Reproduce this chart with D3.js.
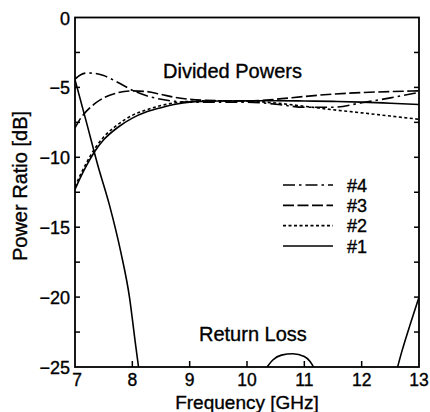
<!DOCTYPE html>
<html>
<head>
<meta charset="utf-8">
<script src="https://cdn.jsdelivr.net/npm/d3@7"></script>
<style>
  body { margin: 0; background: #fff; }
  svg { display: block; font-family: "Liberation Sans", Arial, Helvetica, sans-serif; }
  svg text { stroke: #000; stroke-width: 0.35px; }
</style>
</head>
<body>
<svg id="chart" width="430" height="412"></svg>
<script>
// frequency grid shared by the divided-power curves (GHz)
const divFreq = [7.0, 7.1, 7.2, 7.35, 7.5, 7.75, 8.0, 8.25, 8.5, 8.75, 9.0, 9.5, 10, 10.5, 11, 11.5, 12, 12.5, 13];
const port1 = [-12.3, -11.4, -10.6, -9.55, -8.75, -7.85, -7.2, -6.75, -6.45, -6.2, -6.05, -5.97, -5.95, -5.95, -5.97, -6.0, -6.05, -6.13, -6.22];
const port2 = [-12.1, -11.2, -10.4, -9.35, -8.55, -7.65, -7.0, -6.6, -6.3, -6.1, -6.0, -5.95, -5.98, -6.12, -6.35, -6.6, -6.82, -7.05, -7.28];
const port3 = [-7.9, -7.2, -6.7, -6.15, -5.75, -5.38, -5.25, -5.3, -5.5, -5.72, -5.85, -5.95, -5.98, -5.85, -5.65, -5.48, -5.37, -5.3, -5.25];
const port4 = [-4.4, -4.1, -3.97, -4.0, -4.15, -4.65, -5.2, -5.6, -5.85, -6.0, -6.05, -6.05, -6.05, -6.2, -6.42, -6.42, -6.1, -5.75, -5.35];

// return loss, visible pieces (clipped at -25 dB)
const rlFreqA = [7.0, 7.2, 7.4, 7.6, 7.8, 7.95, 8.05, 8.15];
const rlValsA = [-4.45, -7.5, -10.6, -13.4, -16.8, -20.0, -23.2, -26.3];
const rlFreqB = [10.3, 10.45, 10.6, 10.8, 11.0, 11.1, 11.2];
const rlValsB = [-25.3, -24.5, -24.15, -24.05, -24.25, -24.6, -25.3];
const rlFreqC = [12.55, 12.7, 12.85, 13.0];
const rlValsC = [-26.2, -23.9, -21.9, -20.0];

const xTicks = [7, 8, 9, 10, 11, 12, 13];
const yTicks = [0, -5, -10, -15, -20, -25];
const yMinor = [-2.5, -7.5, -12.5, -17.5, -22.5];
const legendNames = ["#4", "#3", "#2", "#1"];

let margin = {top: 17.5, right: 11, bottom: 45, left: 75},
    width = 430 - margin.left - margin.right,
    height = 412 - margin.top - margin.bottom;

let svg = d3.select("#chart");
let x = d3.scaleLinear().domain([7, 13]).range([margin.left, margin.left + width]);
let y = d3.scaleLinear().domain([-25, 0]).range([margin.top + height, margin.top]);

let dashes = {"#1": null, "#2": "3,2.5", "#3": "11,3.5", "#4": "12,4,2.5,4"};

svg.append("clipPath").attr("id", "plotclip")
    .append("rect")
    .attr("x", x(7)).attr("y", y(0))
    .attr("width", x(13) - x(7)).attr("height", y(-25) - y(0));

let line = d3.line()
    .x(d => x(d[0]))
    .y(d => y(d[1]))
    .curve(d3.curveMonotoneX);

let series = [
    {name: "#1", vals: port1},
    {name: "#2", vals: port2},
    {name: "#3", vals: port3},
    {name: "#4", vals: port4}
];

let plot = svg.append("g").attr("clip-path", "url(#plotclip)");

plot.selectAll(".divided")
    .data(series)
    .join("path")
    .attr("class", "divided")
    .attr("d", s => line(divFreq.map((f, i) => [f, s.vals[i]])))
    .attr("fill", "none")
    .attr("stroke", "#000")
    .attr("stroke-width", 1.6)
    .attr("stroke-dasharray", s => dashes[s.name]);

let rlPieces = [[rlFreqA, rlValsA], [rlFreqB, rlValsB], [rlFreqC, rlValsC]];
plot.selectAll(".retloss")
    .data(rlPieces)
    .join("path")
    .attr("class", "retloss")
    .attr("d", p => line(p[0].map((f, i) => [f, p[1][i]])))
    .attr("fill", "none")
    .attr("stroke", "#000")
    .attr("stroke-width", 1.6);

// frame
svg.append("rect")
    .attr("x", x(7)).attr("y", y(0))
    .attr("width", x(13) - x(7)).attr("height", y(-25) - y(0))
    .attr("fill", "none").attr("stroke", "#000").attr("stroke-width", 1.8);

// ticks, pointing inward
let tickLen = 5;
svg.selectAll(".xtick")
    .data(xTicks.slice(1, -1))
    .join("line")
    .attr("class", "xtick")
    .attr("x1", d => x(d)).attr("x2", d => x(d))
    .attr("y1", y(-25)).attr("y2", y(-25) - 6)
    .attr("stroke", "#000").attr("stroke-width", 1.5);

let allY = yTicks.concat(yMinor).filter(d => d > -25 && d < 0);
svg.selectAll(".ytickL")
    .data(allY)
    .join("line")
    .attr("class", "ytickL")
    .attr("x1", x(7)).attr("x2", x(7) + tickLen)
    .attr("y1", d => y(d)).attr("y2", d => y(d))
    .attr("stroke", "#000").attr("stroke-width", 1.5);
svg.selectAll(".ytickR")
    .data(allY)
    .join("line")
    .attr("class", "ytickR")
    .attr("x1", x(13)).attr("x2", x(13) - tickLen)
    .attr("y1", d => y(d)).attr("y2", d => y(d))
    .attr("stroke", "#000").attr("stroke-width", 1.5);

// tick labels
svg.selectAll(".xlab")
    .data(xTicks)
    .join("text")
    .attr("class", "xlab")
    .attr("x", d => x(d) + (d === 7 ? 2 : 0))
    .attr("y", 385.5)
    .attr("text-anchor", "middle")
    .attr("font-size", "17.5px")
    .text(d => d);

svg.selectAll(".ylab")
    .data(yTicks)
    .join("text")
    .attr("class", "ylab")
    .attr("x", x(7) - 5)
    .attr("y", d => y(d) + 7)
    .attr("text-anchor", "end")
    .attr("font-size", "18px")
    .text(d => d === 0 ? "0" : "\u2212" + Math.abs(d));

// axis titles
svg.append("text")
    .attr("x", 247).attr("y", 408.5)
    .attr("text-anchor", "middle")
    .attr("font-size", "19px")
    .text("Frequency [GHz]");

svg.append("text")
    .attr("transform", "translate(27,186) rotate(-90)")
    .attr("text-anchor", "middle")
    .attr("font-size", "20px")
    .text("Power Ratio [dB]");

// annotations
svg.append("text").attr("x", 163).attr("y", 78)
    .attr("font-size", "20px").text("Divided Powers");
svg.append("text").attr("x", 199).attr("y", 341)
    .attr("font-size", "20px").text("Return Loss");

// legend
let legY = d3.scalePoint().domain(legendNames).range([185, 246]);
svg.selectAll(".legline")
    .data(legendNames)
    .join("line")
    .attr("class", "legline")
    .attr("x1", 283).attr("x2", 333)
    .attr("y1", d => legY(d)).attr("y2", d => legY(d))
    .attr("stroke", "#000").attr("stroke-width", 1.6)
    .attr("stroke-dasharray", d => dashes[d]);
svg.selectAll(".legtext")
    .data(legendNames)
    .join("text")
    .attr("class", "legtext")
    .attr("x", 347)
    .attr("y", d => legY(d) + 6.5)
    .attr("font-size", "18px")
    .text(d => d);
</script>
</body>
</html>
